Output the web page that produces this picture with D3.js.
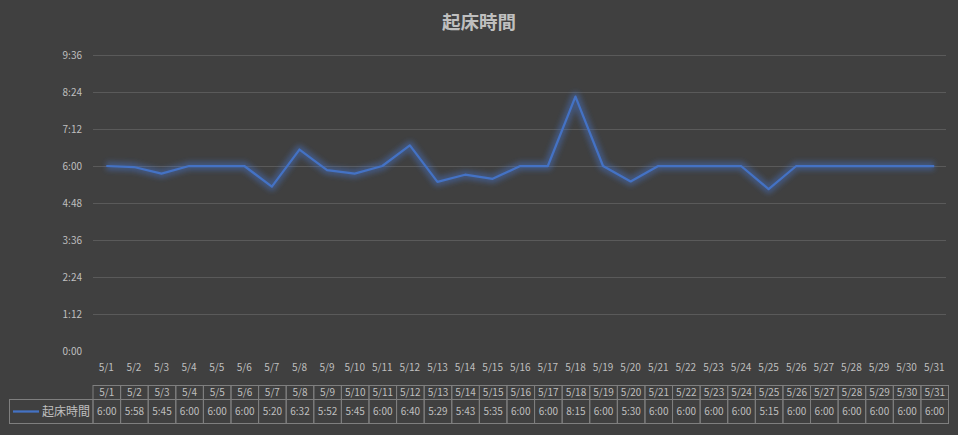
<!DOCTYPE html>
<html>
<head>
<meta charset="utf-8">
<script src="https://cdn.jsdelivr.net/npm/d3@7"></script>
<style>
	body { margin: 0; background: #404040; }
	svg { display: block; }
	text { font-family: "Noto Sans CJK JP", "Noto Sans", sans-serif; }
</style>
</head>
<body>
<svg width="958" height="435"></svg>
<script>
// Data
const seriesName = "起床時間";
const days = ["5/1","5/2","5/3","5/4","5/5","5/6","5/7","5/8","5/9","5/10","5/11","5/12","5/13","5/14","5/15","5/16","5/17","5/18","5/19","5/20","5/21","5/22","5/23","5/24","5/25","5/26","5/27","5/28","5/29","5/30","5/31"];
const wakeTimes = ["6:00","5:58","5:45","6:00","6:00","6:00","5:20","6:32","5:52","5:45","6:00","6:40","5:29","5:43","5:35","6:00","6:00","8:15","6:00","5:30","6:00","6:00","6:00","6:00","5:15","6:00","6:00","6:00","6:00","6:00","6:00"];
const yTickLabels = ["0:00","1:12","2:24","3:36","4:48","6:00","7:12","8:24","9:36"];

const toHours = (s) => {
	const [h, m] = s.split(":").map(Number);
	return h + m / 60;
};

const data = days.map((d, i) => ({ day: d, label: wakeTimes[i], value: toHours(wakeTimes[i]) }));

const svg = d3.select("svg");
const textColor = "#bfbfbf";
const lineColor = "#4472c4";

// Scales
const x = d3.scaleBand().domain(days).range([92.5, 948]).padding(0);
const y = d3.scaleLinear().domain([0, 9.6]).range([351, 55]);

// Title
svg.append("text")
	.attr("x", 479)
	.attr("y", 29)
	.attr("text-anchor", "middle")
	.attr("fill", textColor)
	.attr("font-size", 18.5)
	.attr("font-weight", "bold")
	.text(seriesName);

// Gridlines (no line at 0)
const ticks = yTickLabels.map(toHours);
svg.append("g")
	.selectAll("line")
	.data(ticks.filter((t) => t > 0))
	.join("line")
	.attr("x1", 93)
	.attr("x2", 946)
	.attr("y1", (d) => Math.round(y(d)) + 0.5)
	.attr("y2", (d) => Math.round(y(d)) + 0.5)
	.attr("stroke", "#5a5a5a")
	.attr("stroke-width", 1);

// Y axis labels
svg.append("g")
	.selectAll("text")
	.data(ticks)
	.join("text")
	.attr("x", 82)
	.attr("y", (d) => y(d))
	.attr("dy", "0.35em")
	.attr("text-anchor", "end")
	.attr("fill", textColor)
	.attr("font-size", 10)
	.text((d, i) => yTickLabels[i]);

// X axis labels
svg.append("g")
	.selectAll("text")
	.data(days)
	.join("text")
	.attr("x", (d) => x(d) + x.bandwidth() / 2)
	.attr("y", 371)
	.attr("text-anchor", "middle")
	.attr("fill", textColor)
	.attr("font-size", 10)
	.text((d) => d);

// Glow filter
const defs = svg.append("defs");
defs.append("filter")
	.attr("id", "glow")
	.attr("x", "-10%").attr("y", "-50%")
	.attr("width", "120%").attr("height", "200%")
	.append("feGaussianBlur")
	.attr("stdDeviation", 2.5);

const line = d3.line()
	.x((d) => x(d.day) + x.bandwidth() / 2)
	.y((d) => y(d.value));

svg.append("path")
	.datum(data)
	.attr("d", line)
	.attr("fill", "none")
	.attr("stroke", lineColor)
	.attr("stroke-opacity", 0.45)
	.attr("stroke-width", 9)
	.attr("stroke-linejoin", "round")
	.attr("filter", "url(#glow)");

svg.append("path")
	.datum(data)
	.attr("d", line)
	.attr("fill", "none")
	.attr("stroke", lineColor)
	.attr("stroke-width", 2.25)
	.attr("stroke-linejoin", "round");

// Data table
const table = svg.append("g");
const borderColor = "#7f7f7f";
const rowTop = 385.5, rowMid = 399.5, rowBottom = 423.5, tableLeft = 9.5;

// header cells
table.selectAll(".hcell")
	.data(days)
	.join("rect")
	.attr("class", "hcell")
	.attr("x", (d) => x(d) + 0.5)
	.attr("y", rowTop)
	.attr("width", x.bandwidth())
	.attr("height", rowMid - rowTop)
	.attr("fill", "none")
	.attr("stroke", borderColor);

table.selectAll(".vcell")
	.data(data)
	.join("rect")
	.attr("class", "vcell")
	.attr("x", (d) => x(d.day) + 0.5)
	.attr("y", rowMid)
	.attr("width", x.bandwidth())
	.attr("height", rowBottom - rowMid)
	.attr("fill", "none")
	.attr("stroke", borderColor);

// legend cell
table.append("rect")
	.attr("x", tableLeft)
	.attr("y", rowMid)
	.attr("width", x(days[0]) + 0.5 - tableLeft)
	.attr("height", rowBottom - rowMid)
	.attr("fill", "none")
	.attr("stroke", borderColor);

table.append("line")
	.attr("x1", 13)
	.attr("x2", 39)
	.attr("y1", 411.5)
	.attr("y2", 411.5)
	.attr("stroke", lineColor)
	.attr("stroke-width", 2.25);

table.append("text")
	.attr("x", 90)
	.attr("y", 411.5)
	.attr("dy", "0.35em")
	.attr("text-anchor", "end")
	.attr("fill", textColor)
	.attr("font-size", 12)
	.text(seriesName);

table.selectAll(".hlabel")
	.data(days)
	.join("text")
	.attr("class", "hlabel")
	.attr("x", (d) => x(d) + x.bandwidth() / 2 + 0.5)
	.attr("y", (rowTop + rowMid) / 2)
	.attr("dy", "0.35em")
	.attr("text-anchor", "middle")
	.attr("fill", textColor)
	.attr("font-size", 10)
	.text((d) => d);

table.selectAll(".vlabel")
	.data(data)
	.join("text")
	.attr("class", "vlabel")
	.attr("x", (d) => x(d.day) + x.bandwidth() / 2 + 0.5)
	.attr("y", (rowMid + rowBottom) / 2)
	.attr("dy", "0.35em")
	.attr("text-anchor", "middle")
	.attr("fill", textColor)
	.attr("font-size", 10)
	.text((d) => d.label);
</script>
</body>
</html>
